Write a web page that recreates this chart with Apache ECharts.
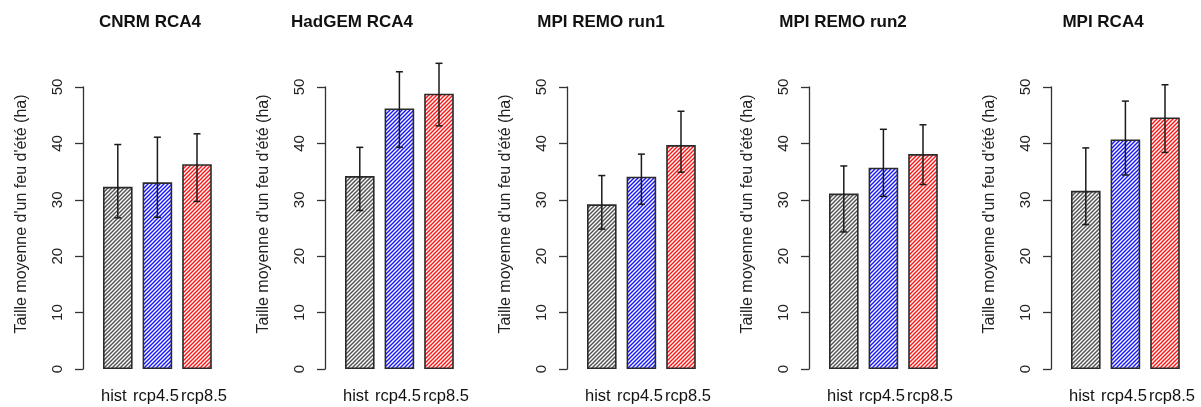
<!DOCTYPE html>
<html><head><meta charset="utf-8">
<script src="https://cdn.jsdelivr.net/npm/echarts@6/dist/echarts.min.js"></script>
<style>html,body{margin:0;padding:0;background:#fff}#c{width:1201px;height:407px}</style>
</head><body><div id="c"></div>
<script>
// ---- data ----
const models = ['CNRM RCA4', 'HadGEM RCA4', 'MPI REMO run1', 'MPI REMO run2', 'MPI RCA4'];
const scenarios = ['hist', 'rcp4.5', 'rcp8.5'];
const meanValues = [
  [32.3, 33.1, 36.3],
  [34.2, 46.2, 48.8],
  [29.2, 34.1, 39.7],
  [31.1, 35.7, 38.1],
  [31.6, 40.7, 44.6]
];
const lowerValues = [
  [26.8, 26.9, 29.7],
  [28.1, 39.3, 43.1],
  [24.8, 29.2, 34.9],
  [24.3, 30.6, 32.7],
  [25.6, 34.4, 38.4]
];
const upperValues = [
  [39.8, 41.1, 41.7],
  [39.3, 52.7, 54.2],
  [34.3, 38.1, 45.7],
  [36.0, 42.5, 43.3],
  [39.2, 47.5, 50.4]
];
const yTicks = [0, 10, 20, 30, 40, 50];
const yTitle = "Taille moyenne d'un feu d'été (ha)";

// ---- styles ----
const FONT = 'Liberation Sans, Arial, Helvetica, sans-serif';
const hatchColors = ['#555555', '#1a1aff', '#ff1a1a'];
const titleCenters = [150, 352, 601, 843, 1103];
const labelPads = [[0, 8, 0, 0], [0, 3, 0, 0], [0, 0, 0, 14]];

function hatch(color) {
  const c = document.createElement('canvas');
  c.width = 4; c.height = 4;
  const g = c.getContext('2d');
  g.fillStyle = '#fff'; g.fillRect(0, 0, 4, 4);
  g.strokeStyle = color; g.lineWidth = 1.5;
  g.beginPath();
  g.moveTo(-1, 5); g.lineTo(5, -1);
  g.moveTo(-1, 1); g.lineTo(1, -1);
  g.moveTo(3, 5); g.lineTo(5, 3);
  g.stroke();
  return c;
}
const patterns = hatchColors.map(c => ({ image: hatch(c), repeat: 'repeat' }));

const chart = echarts.init(document.getElementById('c'), null, { renderer: 'canvas' });

const grids = [], xAxes = [], yAxes = [], series = [], titles = [];
const rich = {};
labelPads.forEach((p, i) => { rich['s' + i] = { fontSize: 16.5, fontFamily: FONT, color: '#111', padding: p }; });

models.forEach((m, i) => {
  grids.push({ left: 98 + 242 * i, width: 118.8, top: 87, height: 282, containLabel: false });
  xAxes.push({
    type: 'category', gridIndex: i, data: scenarios,
    axisLine: { show: false }, axisTick: { show: false },
    axisLabel: { margin: 19, interval: 0, formatter: (v, k) => `{s${k}|${v}}`, rich: rich }
  });
  yAxes.push({
    type: 'value', gridIndex: i,
    min: yTicks[0], max: yTicks[yTicks.length - 1], interval: yTicks[1] - yTicks[0],
    offset: 15,
    axisLine: { show: true, lineStyle: { color: '#333', width: 1.3 } },
    axisTick: { show: true, length: 8, lineStyle: { color: '#333', width: 1.3 } },
    splitLine: { show: false },
    axisLabel: { rotate: 90, margin: 18, fontSize: 15, color: '#222', fontFamily: FONT },
    name: yTitle, nameLocation: 'middle', nameRotate: 90, nameGap: 53,
    nameTextStyle: { fontSize: 16, color: '#222', fontFamily: FONT, padding: [0, 0, 0, 28] }
  });
  titles.push({
    text: m, left: titleCenters[i], top: 12, textAlign: 'center', padding: 0,
    textStyle: { fontSize: 17, fontWeight: 'bold', color: '#111', fontFamily: FONT, lineHeight: 20 }
  });
  series.push({
    type: 'bar', xAxisIndex: i, yAxisIndex: i, barWidth: 29.6, z: 2,
    data: meanValues[i].map((v, k) => ({
      value: v,
      itemStyle: { color: patterns[k], borderColor: '#2a2a2a', borderWidth: 1.6 }
    })),
    emphasis: { disabled: true }, silent: true
  });
  series.push({
    type: 'custom', xAxisIndex: i, yAxisIndex: i, clip: false, silent: true, z: 5,
    data: lowerValues[i].map((lo, k) => [k, lo, upperValues[i][k]]),
    encode: { x: 0, y: [1, 2] },
    renderItem: (params, api) => {
      const x = api.value(0);
      const pLo = api.coord([x, api.value(1)]);
      const pHi = api.coord([x, api.value(2)]);
      const hw = 3.5;
      const st = { stroke: '#1a1a1a', lineWidth: 1.5 };
      return {
        type: 'group', children: [
          { type: 'line', shape: { x1: pLo[0], y1: pLo[1], x2: pHi[0], y2: pHi[1] }, style: st },
          { type: 'line', shape: { x1: pLo[0] - hw, y1: pLo[1], x2: pLo[0] + hw, y2: pLo[1] }, style: st },
          { type: 'line', shape: { x1: pHi[0] - hw, y1: pHi[1], x2: pHi[0] + hw, y2: pHi[1] }, style: st }
        ]
      };
    }
  });
});

chart.setOption({
  animation: false,
  backgroundColor: '#fff',
  title: titles,
  grid: grids,
  xAxis: xAxes,
  yAxis: yAxes,
  series: series
});
</script>
</body></html>
